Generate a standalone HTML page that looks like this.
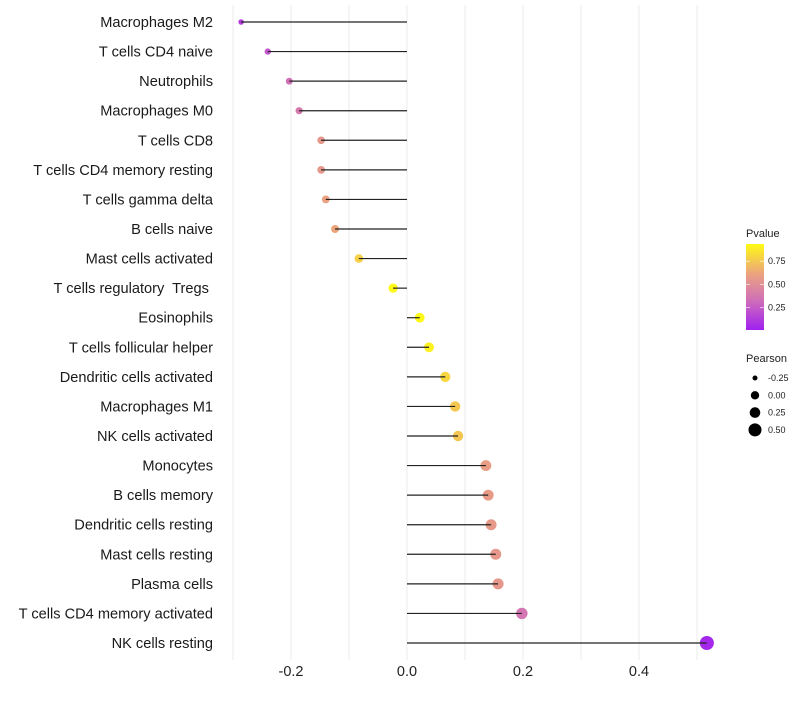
<!DOCTYPE html>
<html><head><meta charset="utf-8"><style>
body{margin:0;background:#fff;}
svg text{font-family:"Liberation Sans",sans-serif;white-space:pre;}
</style></head><body>
<svg id="chart" width="800" height="700"></svg>
<script>
const categories=["Macrophages M2","T cells CD4 naive","Neutrophils","Macrophages M0","T cells CD8","T cells CD4 memory resting","T cells gamma delta","B cells naive","Mast cells activated","T cells regulatory  Tregs ","Eosinophils","T cells follicular helper","Dendritic cells activated","Macrophages M1","NK cells activated","Monocytes","B cells memory","Dendritic cells resting","Mast cells resting","Plasma cells","T cells CD4 memory activated","NK cells resting"];
const pearson=[-0.286,-0.240,-0.203,-0.186,-0.148,-0.148,-0.140,-0.124,-0.083,-0.024,0.022,0.038,0.066,0.083,0.088,0.136,0.140,0.145,0.153,0.157,0.198,0.517];
const pvalues=[0.12,0.22,0.33,0.38,0.55,0.55,0.6,0.62,0.78,0.93,0.93,0.9,0.8,0.75,0.74,0.58,0.57,0.56,0.55,0.55,0.36,0.03];
const xTicks=[-0.2,0.0,0.2,0.4];
const xTickLabels=["-0.2","0.0","0.2","0.4"];
const pTicks=[0.25,0.5,0.75];
const sizeLegend=[-0.25,0.0,0.25,0.5];
const NS="http://www.w3.org/2000/svg";
const svg=document.getElementById('chart');
function mk(t,a,p){const e=document.createElementNS(NS,t);for(const k in a)e.setAttribute(k,a[k]);(p||svg).appendChild(e);return e;}
const x=v=>407+580*v;
const y=i=>22+i*(621/21);
const r=v=>Math.sqrt(Math.max(2.25,10+52*(v+0.24)));
const stops=[[0,[160,32,240]],[0.35,[208,112,184]],[0.65,[235,162,127]],[1,[255,250,20]]];
function col(p){let t=Math.min(1,Math.max(0,p/0.935));for(let i=1;i<stops.length;i++){if(t<=stops[i][0]){const a=stops[i-1],b=stops[i];const f=(t-a[0])/(b[0]-a[0]);const c=a[1].map((v,k)=>Math.round(v+(b[1][k]-v)*f));return `rgb(${c})`;}}return 'rgb(255,250,20)';}
[-0.3,-0.2,-0.1,0,0.1,0.2,0.3,0.4,0.5].forEach(v=>{const g=mk('line',{x1:x(v),x2:x(v),y1:5,y2:660,stroke:'#ebebeb','stroke-width':1});

});
xTicks.forEach((v,i)=>{const t=mk('text',{x:x(v),y:676,'text-anchor':'middle','font-size':14.5,fill:'#222'});t.textContent=xTickLabels[i];

});
categories.forEach((c,i)=>{
const t=mk('text',{x:213,y:y(i)+5,'text-anchor':'end','font-size':14.6,fill:'#1a1a1a'});t.textContent=c;


const d=mk('circle',{cx:x(pearson[i]),cy:y(i),r:r(pearson[i]),fill:col(pvalues[i])});


const l=mk('line',{x1:x(0),x2:x(pearson[i]),y1:y(i),y2:y(i),stroke:'#222','stroke-width':1.2});


});
const defs=mk('defs',{});const lg=mk('linearGradient',{id:'pg',x1:0,y1:1,x2:0,y2:0},defs);
stops.forEach(s=>mk('stop',{offset:s[0],'stop-color':`rgb(${s[1]})`},lg));
const lt=mk('text',{x:746,y:237,'font-size':11,fill:'#222'});lt.textContent='Pvalue';


const bar=mk('rect',{x:746,y:244,width:18,height:86,fill:'url(#pg)'});


pTicks.forEach(p=>{const py=331-(p/0.935)*87;
mk('line',{x1:746,x2:750,y1:py,y2:py,stroke:'#fff','stroke-width':0.6});mk('line',{x1:760,x2:764,y1:py,y2:py,stroke:'#fff','stroke-width':0.6});
const t=mk('text',{x:768,y:py+3,'font-size':9,fill:'#222'});t.textContent=p.toFixed(2);

});
const st=mk('text',{x:746,y:362,'font-size':11,fill:'#222'});st.textContent='Pearson';


sizeLegend.forEach((v,i)=>{const yy=378+i*17.3;
const c=mk('circle',{cx:755,cy:yy,r:[2.5,4.2,5.3,6.5][i],fill:'#000'});


const t=mk('text',{x:768,y:yy+3,'font-size':9,fill:'#222'});t.textContent=v.toFixed(2);

});
</script>
</body></html>
